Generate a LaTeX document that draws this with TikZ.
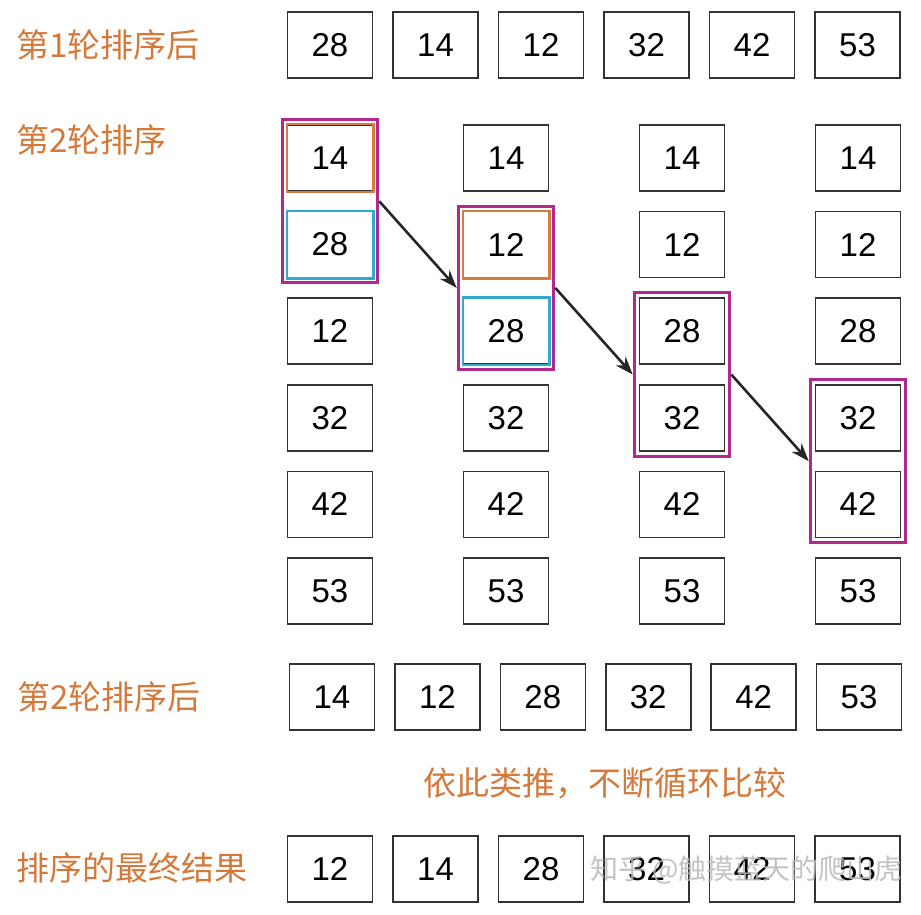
\documentclass[tikz,border=0pt]{standalone}
\usepackage{fontspec}
\setmainfont{Liberation Sans}
\newfontfamily\cjk{Noto Sans CJK SC}
\usetikzlibrary{fit,arrows.meta}

\definecolor{lblorange}{RGB}{212,121,58}
\definecolor{swapmag}{RGB}{178,40,140}
\definecolor{cmporange}{RGB}{214,124,64}
\definecolor{cmpcyan}{RGB}{52,168,208}

\tikzset{
  numbox/.style={draw=black!80, line width=1.6pt, minimum width=85pt,
    minimum height=66pt, inner sep=0pt, font=\fontsize{33}{33}\selectfont},
  lbl/.style={text=lblorange, anchor=west, inner sep=0pt,
    font=\cjk\fontsize{33}{33}\selectfont},
  grp/.style={draw=swapmag, line width=3pt, inner sep=4.5pt},
  arr/.style={-{Stealth[length=18pt,width=13pt]}, line width=2.6pt, black!85},
}

\begin{document}
\begin{tikzpicture}[x=1pt, y=-1pt]
  \useasboundingbox (0,0) rectangle (921,914);

  \newcommand\rowX{105.5}
  \newcommand\colX{176}
  \newcommand\colY{86.6}

  %% labels
  \node[lbl] (l1) at (16,45) {第1轮排序后};
  \node[lbl] (l2) at (16,140) {第2轮排序};
  \node[lbl] (l3) at (17,697) {第2轮排序后};
  \node[lbl] (l4) at (16,868) {排序的最终结果};
  \node[lbl, anchor=center] (etc) at (605,783) {依此类推，不断循环比较};

  %% after round 1
  \foreach \v [count=\i from 0] in {28,14,12,32,42,53}
    \node[numbox] (a\i) at (330+\i*\rowX, 45) {\v};

  %% round 2, step by step
  \foreach \c/\vals in {0/{14,28,12,32,42,53}, 1/{14,12,28,32,42,53},
                        2/{14,12,28,32,42,53}, 3/{14,12,28,32,42,53}}
    \foreach \v [count=\r from 0] in \vals
      \node[numbox] (b\c-\r) at (330+\c*\colX, 158+\r*\colY) {\v};

  %% compared pair
  \draw[cmporange, line width=2.4pt] (b0-0.north west) rectangle (b0-0.south east);
  \draw[cmpcyan, line width=2.4pt] (b0-1.north west) rectangle (b0-1.south east);
  \draw[cmporange, line width=2.4pt] (b1-1.north west) rectangle (b1-1.south east);
  \draw[cmpcyan, line width=2.4pt] (b1-2.north west) rectangle (b1-2.south east);

  %% pairs and moves
  \foreach \i [evaluate=\i as \j using int(\i+1)] in {0,...,3}
    \node[grp, fit=(b\i-\i)(b\i-\j)] (g\i) {};
  \foreach \i [evaluate=\i as \j using int(\i+1)] in {0,1,2}
    \draw[arr] (g\i.east) -- (g\j.west);

  %% after round 2
  \foreach \v [count=\i from 0] in {14,12,28,32,42,53}
    \node[numbox] (d\i) at (332+\i*105.4, 697) {\v};

  %% final result
  \foreach \v [count=\i from 0] in {12,14,28,32,42,53}
    \node[numbox] (e\i) at (330+\i*\rowX, 869) {\v};

  %% watermark
  \node[anchor=west, inner sep=0pt, text=gray!55, opacity=0.85,
    font=\cjk\fontsize{28}{28}\selectfont] (wm) at (590,870) {知乎 @触摸蓝天的爬山虎};
\end{tikzpicture}
\end{document}
